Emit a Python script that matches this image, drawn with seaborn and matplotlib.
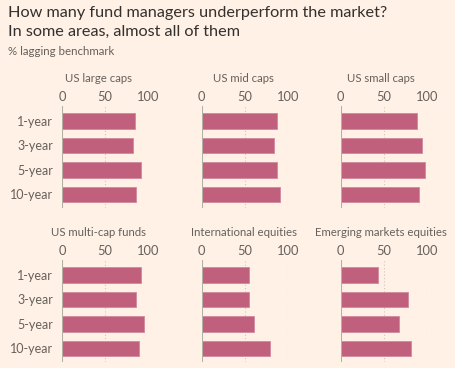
"""FT-style small multiples: share of fund managers lagging their benchmark."""

import matplotlib
matplotlib.use("Agg")
import matplotlib.pyplot as plt
import pandas as pd
import seaborn as sns

periods = ["1-year", "3-year", "5-year", "10-year"]
categories = [
    "US large caps", "US mid caps", "US small caps",
    "US multi-cap funds", "International equities", "Emerging markets equities",
]
us_large = [85, 82, 92, 86]
us_mid = [88, 84, 88, 91]
us_small = [89, 94, 98, 91]
us_multi = [92, 86, 95, 90]
international = [55, 55, 61, 80]
emerging = [43, 78, 68, 82]
xticks = [0, 50, 100]

BG = "#FFF1E5"
BAR = "#C0607D"
GREY = "#66605C"

df = pd.DataFrame({
    "category": [c for c in categories for _ in periods],
    "period": periods * len(categories),
    "value": us_large + us_mid + us_small + us_multi + international + emerging,
})

sns.set_theme(style="white", rc={"axes.facecolor": BG, "figure.facecolor": BG})
plt.rcParams["font.family"] = ["Lato", "DejaVu Sans"]

fig = plt.figure(figsize=(4.55, 3.68), dpi=100)
fig.text(0.018, 0.966, "How many fund managers underperform the market?",
         fontsize=11.7, color="#33302E", va="center")
fig.text(0.018, 0.912, "In some areas, almost all of them",
         fontsize=11.7, color="#33302E", va="center")
fig.text(0.018, 0.861, "% lagging benchmark", fontsize=8.3, color=GREY, va="center")

lefts = [0.1363, 0.4433, 0.7488]
bottoms = [0.4348, 0.0163]
title_x = [0.42, 0.49, 0.47]

for i, cat in enumerate(categories):
    row, col = divmod(i, 3)
    ax = fig.add_axes([lefts[col], bottoms[row], 0.189, 0.277])
    sub = df[df["category"] == cat]
    sns.barplot(data=sub, x="value", y="period", order=periods, color=BAR,
                width=0.63, saturation=1, edgecolor="#D08A9E", linewidth=0.6, ax=ax)
    ax.set_xlim(0, 100)
    ax.set_ylim(3.55, -0.6)
    ax.set_xticks(xticks)
    ax.xaxis.tick_top()
    ax.tick_params(axis="x", length=0, pad=2, labelsize=9.3, labelcolor=GREY)
    ax.tick_params(axis="y", length=0, pad=6.5, labelsize=9, labelcolor=GREY)
    for x in xticks[1:]:
        ax.axvline(x, color="#CEC6B9", lw=0.8, ls=(0, (1, 2)), zorder=0)
    ax.axvline(0, color="#B3B0A3", lw=1.5, zorder=3)
    if col != 0:
        ax.set_yticklabels([])
    ax.set_xlabel("")
    ax.set_ylabel("")
    sns.despine(ax=ax, left=True, bottom=True, top=True, right=True)
    ax.text(title_x[col], 1.27, cat, transform=ax.transAxes, ha="center",
            va="center", fontsize=8.2, color=GREY)

fig.savefig("out.png", dpi=100, facecolor=BG)
